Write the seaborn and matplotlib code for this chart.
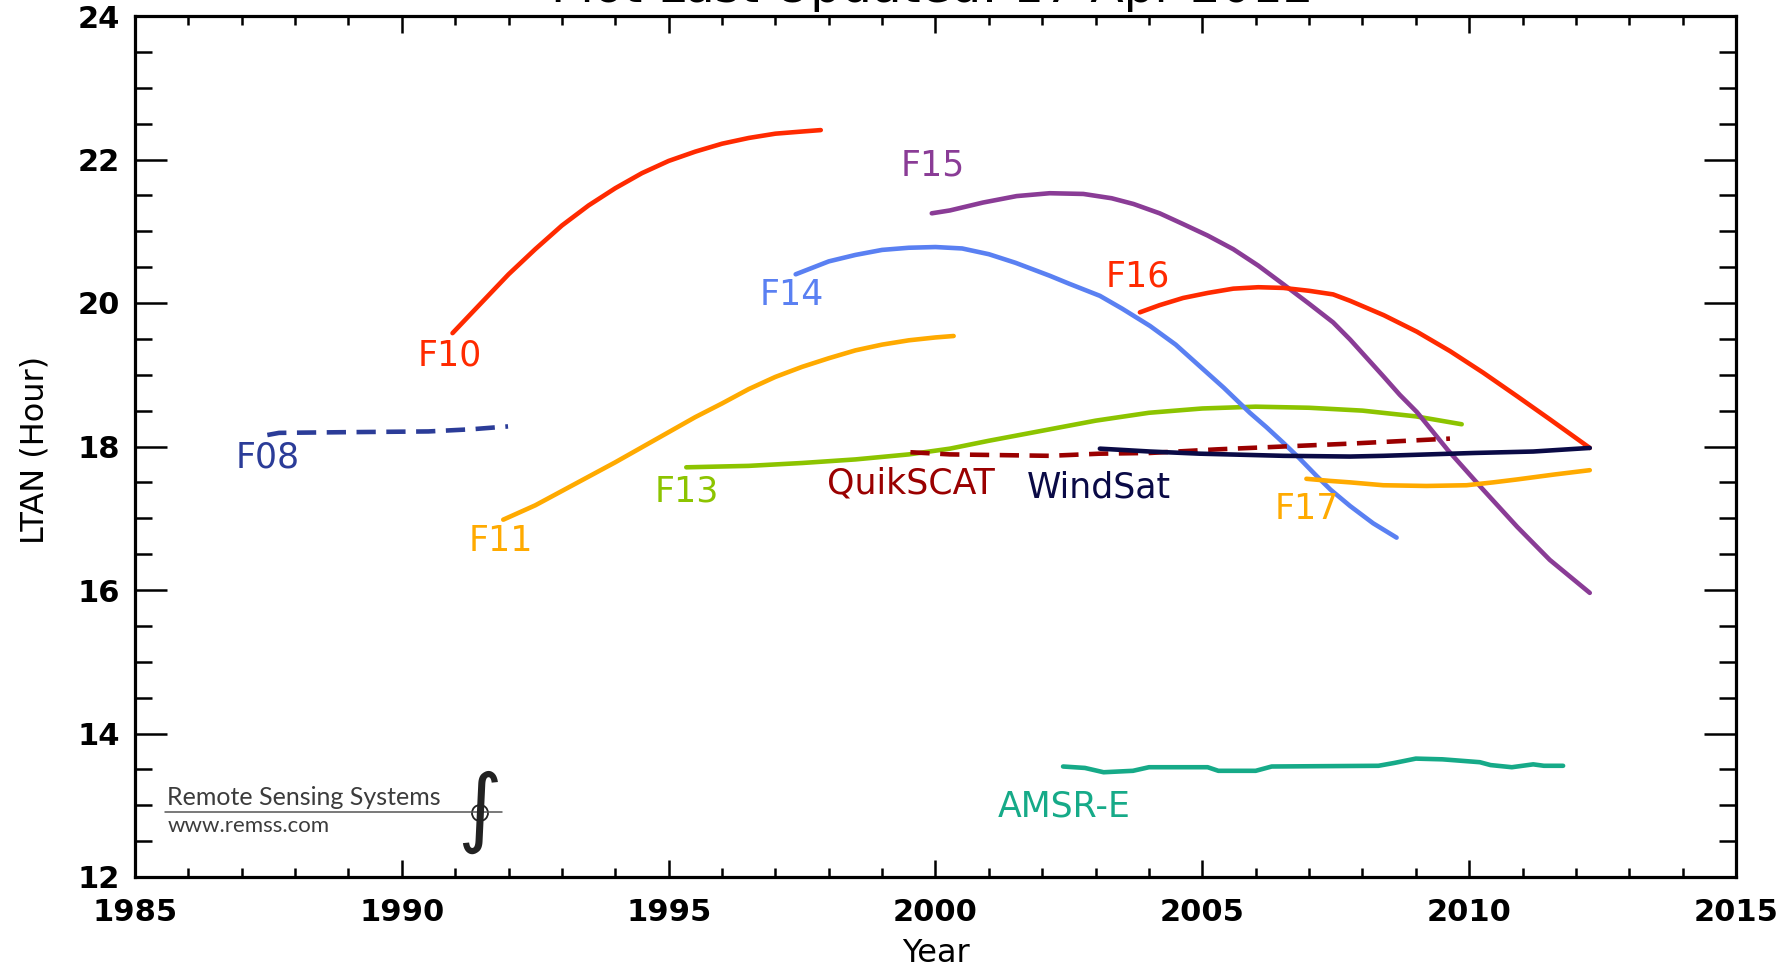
import matplotlib
matplotlib.use("Agg")
import matplotlib.pyplot as plt
import seaborn as sns
from matplotlib.patches import Ellipse
from matplotlib.lines import Line2D
from matplotlib.ticker import MultipleLocator, FixedLocator

# ---------------- data ----------------
f08_year = [1987.48, 1987.7, 1989.0, 1990.5, 1991.3, 1991.99]
f08_ltan = [18.16, 18.19, 18.20, 18.21, 18.24, 18.28]

f10_year = [1990.95, 1991.5, 1992.0, 1992.5, 1993.0, 1993.5, 1994.0, 1994.5, 1995.0,
            1995.5, 1996.0, 1996.5, 1997.0, 1997.5, 1997.85]
f10_ltan = [19.58, 20.01, 20.40, 20.75, 21.08, 21.36, 21.60, 21.81, 21.98,
            22.11, 22.22, 22.30, 22.36, 22.39, 22.41]

f11_year = [1991.90, 1992.5, 1993.0, 1993.5, 1994.0, 1994.5, 1995.0, 1995.5, 1996.0,
            1996.5, 1997.0, 1997.5, 1998.0, 1998.5, 1999.0, 1999.5, 2000.0, 2000.34]
f11_ltan = [16.98, 17.18, 17.38, 17.58, 17.78, 17.99, 18.20, 18.41, 18.60,
            18.80, 18.97, 19.11, 19.23, 19.34, 19.42, 19.48, 19.52, 19.54]

f13_year = [1995.33, 1996.5, 1997.5, 1998.5, 1999.5, 2000.27, 2001.0, 2002.0, 2003.0,
            2004.0, 2005.0, 2006.0, 2007.0, 2008.0, 2009.0, 2009.86]
f13_ltan = [17.71, 17.73, 17.77, 17.82, 17.89, 17.97, 18.08, 18.22, 18.36,
            18.47, 18.53, 18.555, 18.54, 18.50, 18.42, 18.31]

f14_year = [1997.38, 1998.0, 1998.5, 1999.0, 1999.5, 2000.0, 2000.5, 2001.0, 2001.5,
            2002.14, 2002.5, 2003.08, 2003.5, 2004.02, 2004.5, 2004.95, 2005.4, 2005.89,
            2006.2, 2006.52, 2006.8, 2007.14, 2007.4, 2007.77, 2008.2, 2008.64]
f14_ltan = [20.40, 20.58, 20.67, 20.74, 20.77, 20.78, 20.76, 20.68, 20.56,
            20.38, 20.27, 20.10, 19.92, 19.68, 19.42, 19.12, 18.82, 18.47,
            18.27, 18.05, 17.85, 17.59, 17.40, 17.17, 16.93, 16.73]

f15_year = [1999.93, 2000.27, 2000.89, 2001.52, 2002.14, 2002.77, 2003.3, 2003.71, 2004.2,
            2004.64, 2005.1, 2005.58, 2006.05, 2006.52, 2007.0, 2007.45, 2007.77, 2008.39,
            2008.70, 2009.02, 2009.6, 2010.26, 2010.9, 2011.51, 2012.26]
f15_ltan = [21.25, 21.29, 21.40, 21.49, 21.53, 21.52, 21.46, 21.38, 21.25,
            21.10, 20.94, 20.75, 20.52, 20.26, 19.99, 19.73, 19.49, 18.98,
            18.72, 18.48, 17.95, 17.40, 16.88, 16.42, 15.96]

f16_year = [2003.83, 2004.2, 2004.64, 2005.1, 2005.58, 2006.05, 2006.52, 2007.0, 2007.45,
            2007.77, 2008.4, 2009.02, 2009.64, 2010.26, 2010.9, 2011.51, 2012.26]
f16_ltan = [19.87, 19.97, 20.07, 20.14, 20.20, 20.22, 20.21, 20.17, 20.12,
            20.03, 19.83, 19.60, 19.33, 19.03, 18.70, 18.38, 17.98]

f17_year = [2006.95, 2007.4, 2007.77, 2008.39, 2009.2, 2009.95, 2010.45, 2010.89, 2011.6, 2012.26]
f17_ltan = [17.55, 17.52, 17.50, 17.46, 17.45, 17.46, 17.50, 17.54, 17.61, 17.67]

qscat_year = [1999.53, 2000.27, 2002.14, 2003.08, 2004.02, 2005.27, 2006.52, 2007.77, 2009.64]
qscat_ltan = [17.92, 17.89, 17.87, 17.90, 17.91, 17.96, 18.00, 18.04, 18.11]

wsat_year = [2003.08, 2004.02, 2004.95, 2006.52, 2007.77, 2008.39, 2010.10, 2011.20, 2012.26]
wsat_ltan = [17.97, 17.93, 17.90, 17.87, 17.86, 17.87, 17.91, 17.93, 17.98]

amsr_year = [2002.39, 2002.80, 2003.15, 2003.70, 2004.00, 2005.10, 2005.30, 2006.00, 2006.30,
             2008.30, 2008.60, 2009.00, 2009.50, 2010.20, 2010.40, 2010.80, 2011.20, 2011.40, 2011.76]
amsr_ltan = [13.54, 13.52, 13.46, 13.48, 13.53, 13.53, 13.48, 13.48, 13.54,
             13.55, 13.59, 13.65, 13.64, 13.60, 13.56, 13.53, 13.57, 13.55, 13.55]

sat_names = ["F08", "F10", "F11", "F13", "F14", "F15", "F16", "F17", "QuikSCAT", "WindSat", "AMSR-E"]
label_year = [1987.49, 1990.90, 1991.86, 1995.34, 1997.31, 1999.95, 2003.79, 2006.95, 1999.54, 2003.06, 2002.41]
label_ltan = [17.85, 19.27, 16.68, 17.37, 20.11, 21.92, 20.37, 17.13, 17.48, 17.43, 12.98]

x_ticks = [1985, 1990, 1995, 2000, 2005, 2010, 2015]
y_ticks = [12, 14, 16, 18, 20, 22, 24]

title_text = "Plot Last Updated: 17 Apr 2012"
x_label = "Year"
y_label = "LTAN (Hour)"
logo_name = "Remote Sensing Systems"
logo_url = "www.remss.com"

# ---------------- styling ----------------
colors = {
    "F08": "#2b3c98", "F10": "#ff2a00", "F11": "#ffaa00", "F13": "#8cc400",
    "F14": "#5a80f2", "F15": "#8a3c96", "F16": "#ff2a00", "F17": "#ffaa00",
    "QuikSCAT": "#9a0000", "WindSat": "#0a0a46", "AMSR-E": "#16aa88",
}
dashed = {"F08", "QuikSCAT"}

series = {
    "F08": (f08_year, f08_ltan), "F10": (f10_year, f10_ltan), "F11": (f11_year, f11_ltan),
    "F13": (f13_year, f13_ltan), "F14": (f14_year, f14_ltan), "F15": (f15_year, f15_ltan),
    "F16": (f16_year, f16_ltan), "F17": (f17_year, f17_ltan),
    "QuikSCAT": (qscat_year, qscat_ltan), "WindSat": (wsat_year, wsat_ltan),
    "AMSR-E": (amsr_year, amsr_ltan),
}

sns.set_theme(style="ticks")
plt.rcParams['font.family'] = ['DejaVu Sans']

W, H = 1785, 969
fig = plt.figure(figsize=(W / 100, H / 100), dpi=100)
L, R, T, B = 135, 1736, 16, 877
ax = fig.add_axes([L / W, 1 - B / H, (R - L) / W, (B - T) / H])
ax.set_facecolor("white")
fig.patch.set_facecolor("white")

draw_order = ["F08", "F10", "F11", "F13", "F14", "F15", "QuikSCAT", "F16", "F17", "WindSat", "AMSR-E"]
for name in draw_order:
    xs, ys = series[name]
    ls = (0, (4.2, 2.3)) if name in dashed else "-"
    sns.lineplot(x=xs, y=ys, ax=ax, color=colors[name], linewidth=3.3,
                 linestyle=ls, sort=False, estimator=None, legend=False)

for name, lx, ly in zip(sat_names, label_year, label_ltan):
    ax.text(lx, ly, name, color=colors[name], fontsize=25, ha="center", va="center")

ax.set_xlim(1985, 2015)
ax.set_ylim(12, 24)
ax.xaxis.set_major_locator(FixedLocator(x_ticks))
ax.xaxis.set_minor_locator(MultipleLocator(1))
ax.yaxis.set_major_locator(FixedLocator(y_ticks))
ax.yaxis.set_minor_locator(MultipleLocator(0.5))
ax.set_xticklabels([str(v) for v in x_ticks])
ax.set_yticklabels([str(v) for v in y_ticks])

for s in ax.spines.values():
    s.set_visible(True)
    s.set_color("black")
    s.set_linewidth(2.3)

ax.tick_params(which="both", direction="in", top=True, right=True, color="black", width=1.8)
ax.tick_params(axis="y", which="major", length=23, pad=11)
ax.tick_params(axis="y", which="minor", length=12)
ax.tick_params(axis="x", which="major", length=12, pad=15)
ax.tick_params(axis="x", which="minor", length=6.5)
for lab in ax.get_xticklabels() + ax.get_yticklabels():
    lab.set_fontsize(22)
    lab.set_fontweight("bold")
    lab.set_color("black")

ax.set_xlabel(x_label, fontsize=23, color="black")
ax.set_ylabel(y_label, fontsize=23, color="black")
ax.xaxis.set_label_coords((935.5 - L) / (R - L), (B - 954) / (B - T))
ax.xaxis.label.set_va("center")
ax.yaxis.set_label_coords((35 - L) / (R - L), (B - 450) / (B - T))
ax.yaxis.label.set_va("center")

# title, mostly clipped by the top edge as in the reference
fig.text(932 / W, 1 - 1.5 / H, title_text, fontsize=35, ha="center", va="baseline", color="black")

# ---------------- logo ----------------
def fx(px):
    return px / W

def fy(py):
    return 1 - py / H

logo_col = "#3c3c3c"
fig.text(fx(167), fy(805), logo_name, fontsize=18, family="Lato", color=logo_col,
         ha="left", va="baseline")
fig.text(fx(168), fy(832), logo_url, fontsize=16, family="Lato", color=logo_col,
         ha="left", va="baseline")
fig.add_artist(Line2D([fx(165), fx(502)], [fy(812), fy(812)], color="#555555", lw=1.1))
fig.add_artist(Ellipse((fx(480), fy(813)), 16 / W, 16 / H, fill=False, edgecolor="#222222", lw=1.3))
fig.text(fx(480), fy(812), "\u222b", fontsize=62, color="#222222", ha="center", va="center")

fig.savefig("out.png", dpi=100, facecolor="white")
